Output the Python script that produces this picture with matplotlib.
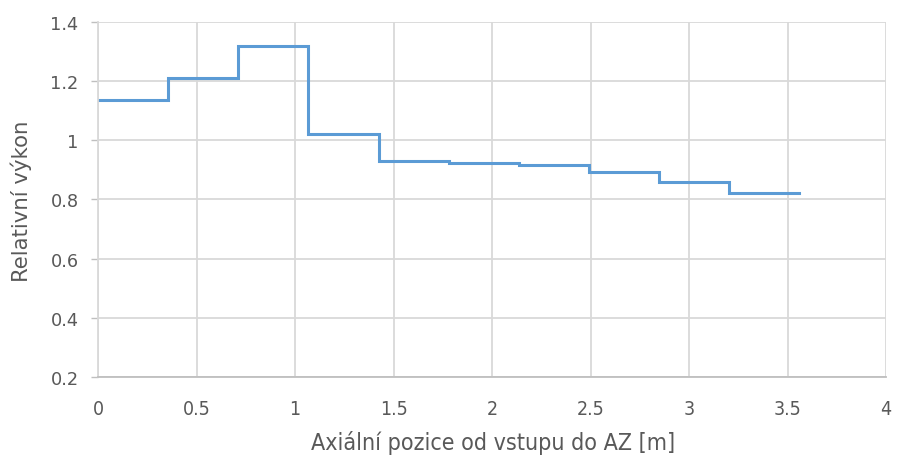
import matplotlib
matplotlib.use("Agg")
import matplotlib.pyplot as plt

# Data
edges = [0, 0.356, 0.712, 1.068, 1.424, 1.78, 2.136, 2.492, 2.848, 3.204, 3.56]
values = [1.135, 1.212, 1.32, 1.02, 0.93, 0.925, 0.915, 0.892, 0.86, 0.823]
xticks = [0, 0.5, 1, 1.5, 2, 2.5, 3, 3.5, 4]
xticklabels = ["0", "0.5", "1", "1.5", "2", "2.5", "3", "3.5", "4"]
yticks = [0.2, 0.4, 0.6, 0.8, 1.0, 1.2, 1.4]
yticklabels = ["0.2", "0.4", "0.6", "0.8", "1", "1.2", "1.4"]
xlabel = "Axiální pozice od vstupu do AZ [m]"
ylabel = "Relativní výkon"

fig = plt.figure(figsize=(8.98, 4.6), dpi=100)
W, H = 898, 460
left, right, top, bottom = 98, 886, 23, 378
ax = fig.add_axes([left / W, 1 - bottom / H, (right - left) / W, (bottom - top) / H])

ys = values + [values[-1]]
ax.step(edges, ys, where="post", color="#5B9BD5", linewidth=2.2, solid_joinstyle="miter")

ax.set_xlim(0, 4)
ax.set_ylim(0.2, 1.4)
ax.set_xticks(xticks)
ax.set_xticklabels(xticklabels, family="DejaVu Sans", stretch="condensed",
                   fontsize=14, color="#595959")
ax.set_yticks(yticks)
ax.set_yticklabels(yticklabels, family="DejaVu Sans", fontsize=12.8, color="#595959")

ax.grid(True, color="#D9D9D9", linewidth=1.3)
ax.set_axisbelow(True)
for s in ["top", "right"]:
    ax.spines[s].set_visible(False)
ax.spines["left"].set_color("#D9D9D9")
ax.spines["left"].set_linewidth(1.3)
ax.spines["bottom"].set_color("#BFBFBF")
ax.spines["bottom"].set_linewidth(1.3)

ax.tick_params(axis="x", length=0, pad=16)
ax.tick_params(axis="y", length=5, width=1.0, color="#BFBFBF", pad=9)

ax.set_xlabel(xlabel, family="DejaVu Sans", stretch="condensed", fontsize=16.7,
              color="#595959")
ax.set_ylabel(ylabel, family="DejaVu Sans", fontsize=15.3, color="#595959")
ax.xaxis.label.set_va("center")
ax.yaxis.label.set_va("center")
ax.xaxis.set_label_coords(((310 + 677) / 2 - left) / (right - left), (bottom - 443) / (bottom - top))
ax.yaxis.set_label_coords((21 - left) / (right - left), (bottom - 201) / (bottom - top))

fig.savefig("out.png", dpi=100)
